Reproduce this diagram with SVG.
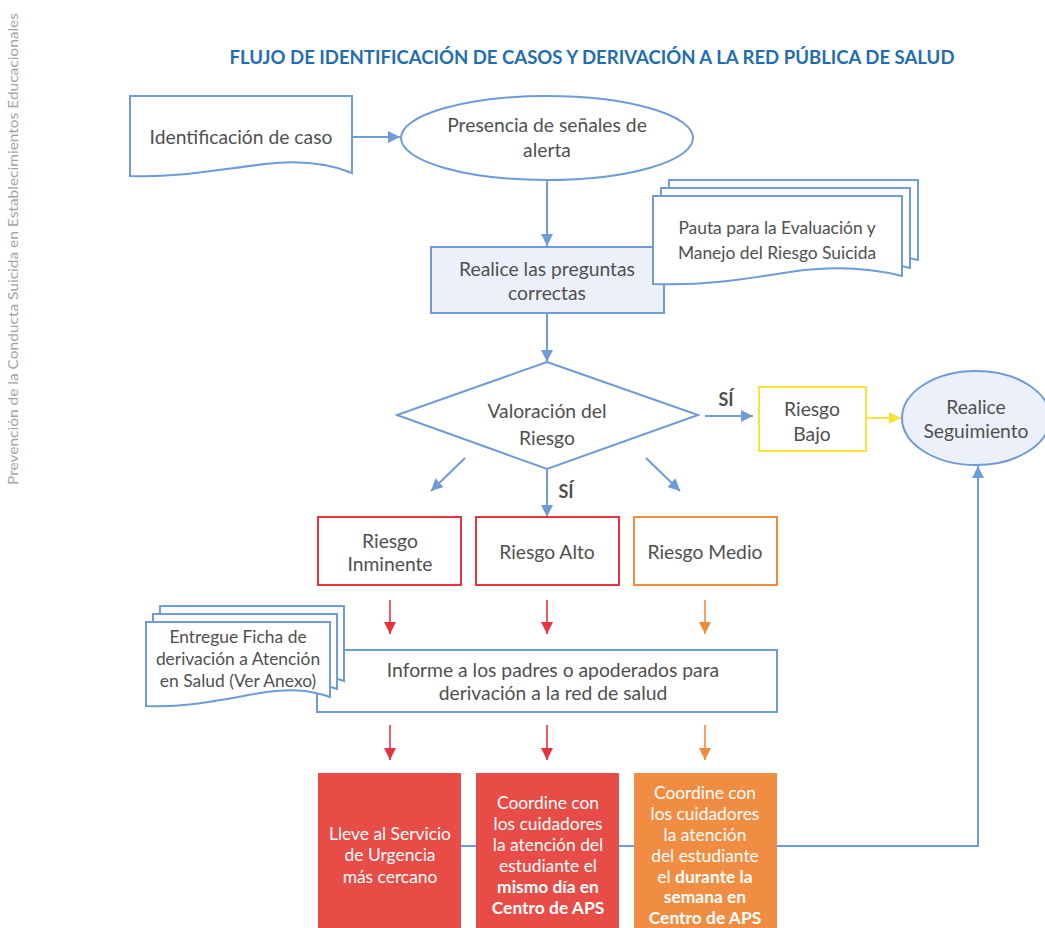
<svg xmlns="http://www.w3.org/2000/svg" width="1045" height="928" viewBox="0 0 1045 928">
<style>
text{font-family:Lato,"Noto Sans","DejaVu Sans",sans-serif;font-size:19.3px;fill:#505050;text-anchor:middle}
.b{fill:#fff;stroke:#6f9bd6;stroke-width:2}
.lb{fill:#ecf0fa;stroke:#6f9bd6;stroke-width:2}
.c{fill:none;stroke:#6f9bd6;stroke-width:2}
.cr{fill:none;stroke:#e8323c;stroke-width:1.6}
.co{fill:none;stroke:#f08c3c;stroke-width:1.6}
.cy{fill:none;stroke:#f9e33b;stroke-width:2}
.w{fill:#fff;font-size:17.4px}
.s{font-size:17.4px}
.bd{font-weight:bold}
</style>
<defs>
<marker id="ab" markerUnits="userSpaceOnUse" markerWidth="12" markerHeight="12" viewBox="0 0 10 10" refX="10" refY="5" orient="auto"><path d="M0,0 L10,5 L0,10 z" fill="#6f9bd6"/></marker>
<marker id="ar" markerUnits="userSpaceOnUse" markerWidth="12" markerHeight="12" viewBox="0 0 10 10" refX="10" refY="5" orient="auto"><path d="M0,0 L10,5 L0,10 z" fill="#e8323c"/></marker>
<marker id="ao" markerUnits="userSpaceOnUse" markerWidth="12" markerHeight="12" viewBox="0 0 10 10" refX="10" refY="5" orient="auto"><path d="M0,0 L10,5 L0,10 z" fill="#f08c3c"/></marker>
<marker id="ay" markerUnits="userSpaceOnUse" markerWidth="12" markerHeight="12" viewBox="0 0 10 10" refX="10" refY="5" orient="auto"><path d="M0,0 L10,5 L0,10 z" fill="#f9e33b"/></marker>
<path id="docP" d="M0,0 H249 V80 C217,72 177,70 137,76 C87,84 47,90 0,88 Z"/>
<path id="docE" d="M0,0 H184 V75 C164,68 144,66 114,71 C74,78 39,86 0,84 Z"/>
</defs>

<text x="18" y="249" transform="rotate(-90 18 249)" style="font-size:13.5px;fill:#a3a3a3" textLength="472" lengthAdjust="spacingAndGlyphs">Prevención de la Conducta Suicida en Establecimientos Educacionales</text>
<text x="592" y="64" style="font-size:19px;font-weight:bold;fill:#1f6db5" textLength="725" lengthAdjust="spacingAndGlyphs">FLUJO DE IDENTIFICACIÓN DE CASOS Y DERIVACIÓN A LA RED PÚBLICA DE SALUD</text>

<g id="connectors">
<line class="c" x1="352" y1="137" x2="400" y2="137" marker-end="url(#ab)"/>
<line class="c" x1="547" y1="180" x2="547" y2="246" marker-end="url(#ab)"/>
<line class="c" x1="547" y1="313" x2="547" y2="362" marker-end="url(#ab)"/>
<line class="c" x1="705" y1="416" x2="753" y2="416" marker-end="url(#ab)"/>
<line class="cy" x1="866" y1="418" x2="901" y2="418" marker-end="url(#ay)"/>
<line class="c" x1="465" y1="458" x2="431" y2="491" marker-end="url(#ab)"/>
<line class="c" x1="646" y1="458" x2="680" y2="491" marker-end="url(#ab)"/>
<line class="c" x1="547" y1="469" x2="547" y2="517" marker-end="url(#ab)"/>
<line class="cr" x1="390" y1="600" x2="390" y2="634" marker-end="url(#ar)"/>
<line class="cr" x1="547" y1="600" x2="547" y2="634" marker-end="url(#ar)"/>
<line class="co" x1="705" y1="600" x2="705" y2="634" marker-end="url(#ao)"/>
<line class="cr" x1="390" y1="725" x2="390" y2="760" marker-end="url(#ar)"/>
<line class="cr" x1="547" y1="725" x2="547" y2="760" marker-end="url(#ar)"/>
<line class="co" x1="705" y1="725" x2="705" y2="760" marker-end="url(#ao)"/>
<line class="c" x1="461" y1="846" x2="476" y2="846"/>
<line class="c" x1="619" y1="846" x2="634" y2="846"/>
<polyline class="c" points="777,846 978,846 978,466" marker-end="url(#ab)"/>
<text x="726" y="406" class="bd" style="font-size:18px">SÍ</text>
<text x="566" y="498" class="bd" style="font-size:18px">SÍ</text>
</g>

<g id="identificacion">
<path class="b" d="M130,96 H352 V173 C330,164 300,160 265,164 C215,170 175,178 130,176 Z"/>
<text x="241" y="144">Identificación de caso</text>
</g>

<g id="presencia">
<ellipse class="b" cx="547" cy="138" rx="146" ry="42"/>
<text x="547" y="132">Presencia de señales de</text>
<text x="547" y="157">alerta</text>
</g>

<g id="preguntas">
<rect class="lb" x="431" y="247" width="233" height="66"/>
<text x="547" y="276">Realice las preguntas</text>
<text x="547" y="300">correctas</text>
</g>

<g id="pauta">
<use href="#docP" class="b" x="669" y="180"/>
<use href="#docP" class="b" x="661" y="188"/>
<use href="#docP" class="b" x="653" y="196"/>
<text x="777" y="234" class="s">Pauta para la Evaluación y</text>
<text x="777" y="259" class="s">Manejo del Riesgo Suicida</text>
</g>

<g id="valoracion">
<polygon class="b" points="547,362 698,415 547,469 397,415"/>
<text x="547" y="418">Valoración del</text>
<text x="547" y="445">Riesgo</text>
</g>

<g id="riesgo-bajo">
<rect x="759" y="387" width="107" height="64" fill="#fff" stroke="#f9e33b" stroke-width="2"/>
<text x="812" y="416">Riesgo</text>
<text x="812" y="441">Bajo</text>
</g>

<g id="seguimiento">
<ellipse class="lb" cx="976" cy="418" rx="74" ry="47"/>
<text x="976" y="414">Realice</text>
<text x="976" y="438">Seguimiento</text>
</g>

<g id="riesgo-inminente">
<rect x="318" y="517" width="143" height="68" fill="#fff" stroke="#e8323c" stroke-width="2"/>
<text x="390" y="548">Riesgo</text>
<text x="390" y="571">Inminente</text>
</g>

<g id="riesgo-alto">
<rect x="476" y="517" width="143" height="68" fill="#fff" stroke="#e8323c" stroke-width="2"/>
<text x="547" y="559">Riesgo Alto</text>
</g>

<g id="riesgo-medio">
<rect x="634" y="517" width="143" height="68" fill="#fff" stroke="#f08c3c" stroke-width="2"/>
<text x="705" y="559">Riesgo Medio</text>
</g>

<g id="informe">
<rect class="b" x="317" y="650" width="460" height="62"/>
<text x="553" y="677">Informe a los padres o apoderados para</text>
<text x="553" y="700">derivación a la red de salud</text>
</g>

<g id="entregue">
<use href="#docE" class="b" x="160" y="606"/>
<use href="#docE" class="b" x="153" y="614"/>
<use href="#docE" class="b" x="146" y="622"/>
<text x="238" y="643" class="s">Entregue Ficha de</text>
<text x="238" y="665" class="s">derivación a Atención</text>
<text x="238" y="687" class="s">en Salud (Ver Anexo)</text>
</g>

<g id="urgencia">
<rect x="318" y="773" width="143" height="160" fill="#e84c46"/>
<text x="390" y="840" class="w">Lleve al Servicio</text>
<text x="390" y="861" class="w">de Urgencia</text>
<text x="390" y="883" class="w">más cercano</text>
</g>

<g id="coordine-alto">
<rect x="476" y="773" width="143" height="160" fill="#e84c46"/>
<text x="548" y="809" class="w">Coordine con</text>
<text x="548" y="830" class="w">los cuidadores</text>
<text x="548" y="851" class="w">la atención del</text>
<text x="548" y="872" class="w">estudiante el</text>
<text x="548" y="893" class="w bd">mismo día en</text>
<text x="548" y="914" class="w bd">Centro de APS</text>
</g>

<g id="coordine-medio">
<rect x="634" y="773" width="143" height="160" fill="#f18d42"/>
<text x="705" y="799" class="w">Coordine con</text>
<text x="705" y="820" class="w">los cuidadores</text>
<text x="705" y="841" class="w">la atención</text>
<text x="705" y="862" class="w">del estudiante</text>
<text x="705" y="883" class="w">el <tspan class="bd">durante la</tspan></text>
<text x="705" y="903" class="w bd">semana en</text>
<text x="705" y="924" class="w bd">Centro de APS</text>
</g>
</svg>
